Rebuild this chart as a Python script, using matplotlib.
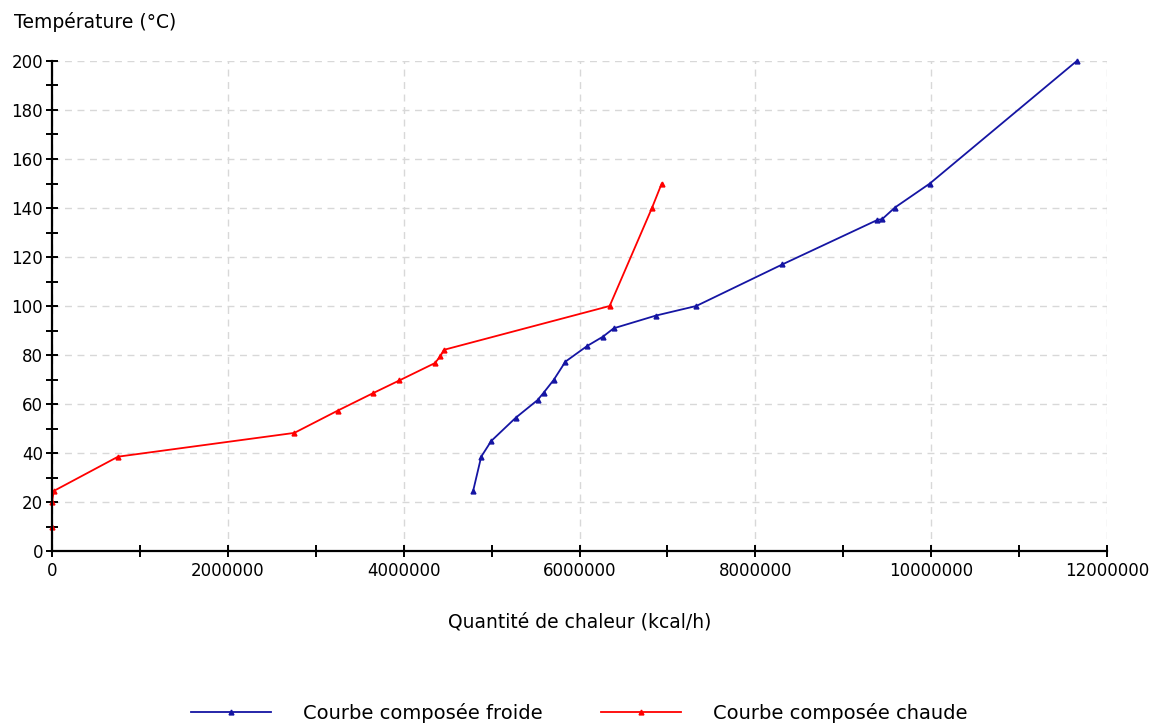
import matplotlib.pyplot as plt
from matplotlib.ticker import MultipleLocator

plt.rcParams['font.family'] = ['DejaVu Sans']

# composite curves
froide_q = [4790000, 4882000, 4996000, 5275000, 5523000, 5592000, 5706000, 5840000,
            6088000, 6267000, 6389000, 6870000, 7328000, 8309000, 9387000, 9444000,
            9588000, 9985000, 11656000]
froide_t = [24.5, 38.5, 44.9, 54.4, 61.6, 64.6, 69.8, 77.3,
            83.7, 87.5, 90.9, 96.1, 100, 117, 135.1, 135.5,
            140.2, 150, 200]

chaude_q = [0, 0, 20000, 751000, 2756000, 3250000, 3650000, 3950000,
            4355000, 4416000, 4457000, 6343000, 6824000, 6935000]
chaude_t = [10, 20, 24.5, 38.5, 48.2, 57.3, 64.4, 69.6,
            76.7, 79.4, 82.1, 100, 140, 150]

fig = plt.figure(figsize=(11.56, 7.24), dpi=100)
ax = fig.add_axes([52 / 1156, 1 - 551 / 724, (1107 - 52) / 1156, (551 - 61) / 724])

ax.plot(froide_q, froide_t, color='#1515a3', lw=1.3, marker='^', ms=3.5,
        label='Courbe composée froide', clip_on=False)
ax.plot(chaude_q, chaude_t, color='#ff0000', lw=1.3, marker='^', ms=3.5,
        label='Courbe composée chaude', clip_on=False)

ax.set_xlim(0, 12000000)
ax.set_ylim(0, 200)
ax.xaxis.set_major_locator(MultipleLocator(2000000))
ax.xaxis.set_minor_locator(MultipleLocator(1000000))
ax.yaxis.set_major_locator(MultipleLocator(20))
ax.yaxis.set_minor_locator(MultipleLocator(10))
ax.ticklabel_format(style='plain', useOffset=False)

ax.grid(True, which='major', color='#d8d8d8', ls=(0, (5, 4)), lw=1)
ax.set_axisbelow(True)
for s in ['top', 'right']:
    ax.spines[s].set_visible(False)
for s in ['left', 'bottom']:
    ax.spines[s].set_linewidth(1.6)
ax.tick_params(which='both', direction='inout', width=1.4, labelsize=12,
               colors='black', length=9)
ax.tick_params(axis='y', pad=2)

ax.set_xlabel('Quantité de chaleur (kcal/h)', fontsize=13.5, labelpad=23)
fig.text(14 / 1156, 1 - 22 / 724, 'Température (°C)', fontsize=13.5, va='center', ha='left')

fig.legend(loc='center', bbox_to_anchor=(0.501, 1 - 713 / 724), ncol=2, frameon=False,
           fontsize=14, handlelength=4.1, columnspacing=3.0, handletextpad=1.65)

fig.savefig('out.png', dpi=100)
